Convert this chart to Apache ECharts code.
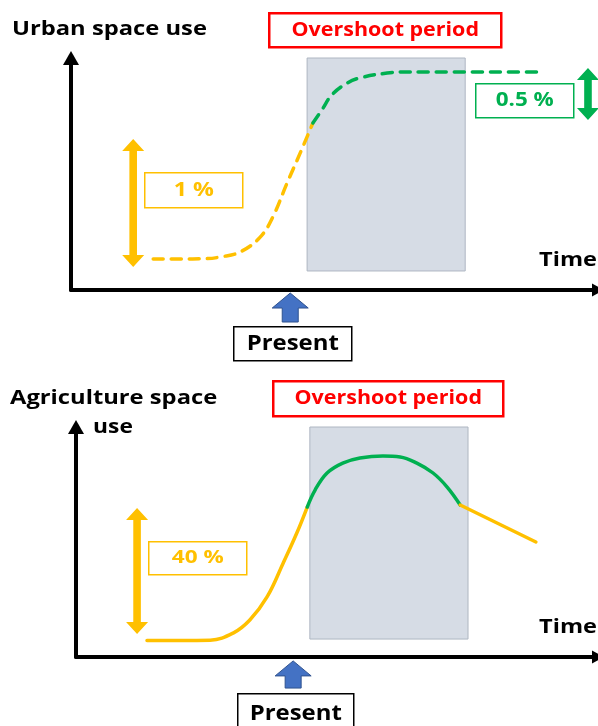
<!DOCTYPE html>
<html>
<head>
<meta charset="utf-8">
<script src="https://cdn.jsdelivr.net/npm/echarts@6/dist/echarts.min.js"></script>
<style>
  html, body { margin: 0; padding: 0; background: #fff; }
  #chart { width: 598px; height: 726px; }
</style>
</head>
<body>
<div id="chart"></div>
<script>
const YELLOW = "#FFC000";
const GREEN = "#00B050";
const RED = "#FF0000";
const BLUE = "#4472C4";
const SHADE = "#D6DCE5";
const FONT = "'Open Sans', 'Noto Sans', sans-serif";

// both panels use 0..100 units for time (x) and space use (y)
const urbanRise = [[15.6, 13.4], [20.7, 13.4], [25.5, 13.5], [28.5, 14.3], [32.1, 16.4], [35.9, 22.8], [38.3, 31.5], [41.0, 46.1], [43.5, 59.1], [45.9, 72.0]];
const urbanPlateau = [[45.9, 72.0], [47.6, 77.6], [49.5, 84.1], [52.4, 89.2], [54.8, 91.4], [60.0, 93.5], [64.3, 94.0], [89.4, 94.0]];
const urbanOvershoot = [44.8, 74.8, 8.2, 100];
const urbanRanges = [[11.8, 9.9, 65.1], [98.1, 73.3, 95.7]];
const urbanRangeColors = [YELLOW, GREEN];
const urbanPresent = [41.6, -1.3, -13.8];

const agriRise = [[13.6, 7.2], [20.0, 7.2], [25.7, 7.3], [30.1, 10.4], [33.3, 16.1], [36.6, 26.1], [39.7, 40.9], [42.3, 53.9], [44.3, 65.2]];
const agriPeak = [[44.3, 65.2], [45.8, 72.6], [48.1, 80.0], [51.1, 84.3], [54.4, 86.5], [58.8, 87.4], [62.1, 87.0], [65.3, 84.3], [68.4, 80.0], [71.1, 73.9], [73.6, 66.1]];
const agriDecline = [[73.6, 66.1], [88.1, 50.0]];
const agriOvershoot = [44.8, 75.1, 7.8, 100];
const agriRanges = [[11.7, 10.0, 64.8]];
const agriRangeColors = [YELLOW];
const agriPresent = [41.6, -1.7, -13.5];

const chart = echarts.init(document.getElementById("chart"), undefined, { renderer: "canvas" });

function axisPair(gridIndex) {
  const line = (size) => ({
    show: true,
    symbol: ["none", "triangle"],
    symbolSize: size,
    lineStyle: { color: "#000", width: 4 },
  });
  return {
    x: {
      gridIndex, type: "value", min: 0, max: 100,
      axisLine: line([13, 12]), axisTick: { show: false }, axisLabel: { show: false }, splitLine: { show: false },
    },
    y: {
      gridIndex, type: "value", min: 0, max: 100,
      axisLine: line([16, 14]), axisTick: { show: false }, axisLabel: { show: false }, splitLine: { show: false },
    },
  };
}

function rangeArrows(gridIndex, ranges, colors) {
  return {
    type: "custom",
    xAxisIndex: gridIndex,
    yAxisIndex: gridIndex,
    z: 5,
    data: ranges,
    renderItem: (params, api) => {
      const hi = api.coord([api.value(0), api.value(2)]);
      const lo = api.coord([api.value(0), api.value(1)]);
      const x = hi[0];
      const hw = 11, sw = 3.8, hl = 12;
      return {
        type: "polygon",
        shape: {
          points: [
            [x, hi[1]], [x + hw, hi[1] + hl], [x + sw, hi[1] + hl], [x + sw, lo[1] - hl], [x + hw, lo[1] - hl],
            [x, lo[1]], [x - hw, lo[1] - hl], [x - sw, lo[1] - hl], [x - sw, hi[1] + hl], [x - hw, hi[1] + hl],
          ],
        },
        style: { fill: colors[params.dataIndex] },
      };
    },
  };
}

function presentArrow(gridIndex, p) {
  return {
    type: "custom",
    xAxisIndex: gridIndex,
    yAxisIndex: gridIndex,
    z: 5,
    data: [p],
    renderItem: (params, api) => {
      const tip = api.coord([api.value(0), api.value(1)]);
      const base = api.coord([api.value(0), api.value(2)]);
      const x = tip[0];
      const hw = 18, sw = 8, hl = 15;
      return {
        type: "polygon",
        shape: {
          points: [[x, tip[1]], [x + hw, tip[1] + hl], [x + sw, tip[1] + hl], [x + sw, base[1]], [x - sw, base[1]], [x - sw, tip[1] + hl], [x - hw, tip[1] + hl]],
        },
        style: { fill: BLUE, stroke: "#2F528F", lineWidth: 1 },
      };
    },
  };
}

function curve(gridIndex, data, color, dashed) {
  return {
    type: "line",
    xAxisIndex: gridIndex,
    yAxisIndex: gridIndex,
    smooth: 0.4,
    showSymbol: false,
    z: 4,
    lineStyle: { color, width: 3.5, type: dashed ? [10, 8] : "solid", cap: "round" },
    data,
  };
}

function shade(gridIndex, a) {
  return {
    type: "line",
    xAxisIndex: gridIndex,
    yAxisIndex: gridIndex,
    data: [],
    z: 1,
    markArea: {
      silent: true,
      itemStyle: { color: SHADE, borderColor: "#AEB6C2", borderWidth: 1 },
      data: [[{ xAxis: a[0], yAxis: a[3] }, { xAxis: a[1], yAxis: a[2] }]],
    },
  };
}

function box(left, topPx, w, h, text, color, lineWidth, fontSize, stretch) {
  return {
    type: "group",
    left, top: topPx,
    children: [
      { type: "rect", shape: { x: 0, y: 0, width: w, height: h }, style: { fill: "#fff", stroke: color, lineWidth } },
      {
        type: "text", x: w / 2, y: h / 2, scaleX: stretch,
        style: { text, fill: color, font: `bold ${fontSize}px ${FONT}`, textAlign: "center", textVerticalAlign: "middle" },
      },
    ],
  };
}

function label(x, y, text, fontSize, align, stretch) {
  return {
    type: "text", x, y, scaleX: stretch || 1,
    style: { text, fill: "#000", font: `bold ${fontSize}px ${FONT}`, textAlign: align || "left", textVerticalAlign: "middle" },
  };
}

const urbanAxes = axisPair(0);
const agriAxes = axisPair(1);

chart.setOption({
  backgroundColor: "#fff",
  animation: false,
  grid: [
    { left: 71, top: 58, width: 527, height: 232 },
    { left: 76, top: 427, width: 522, height: 230 },
  ],
  xAxis: [urbanAxes.x, agriAxes.x],
  yAxis: [urbanAxes.y, agriAxes.y],
  series: [
    shade(0, urbanOvershoot),
    curve(0, urbanRise, YELLOW, true),
    curve(0, urbanPlateau, GREEN, true),
    rangeArrows(0, urbanRanges, urbanRangeColors),
    presentArrow(0, urbanPresent),
    shade(1, agriOvershoot),
    curve(1, agriRise, YELLOW, false),
    curve(1, agriPeak, GREEN, false),
    curve(1, agriDecline, YELLOW, false),
    rangeArrows(1, agriRanges, agriRangeColors),
    presentArrow(1, agriPresent),
  ],
  graphic: [
    label(12, 30, "Urban space use", 19, "left", 1.25),
    box(268, 12, 232, 34, "Overshoot period", RED, 2.5, 19, 1.13),
    box(144, 172, 98, 35, "1 %", YELLOW, 1.5, 19, 1.22),
    box(475, 83, 98, 34, "0.5 %", GREEN, 1.5, 19, 1.18),
    label(597, 261, "Time", 19, "right", 1.24),
    box(233, 326, 118, 34, "Present", "#000", 1.5, 21, 1.14),
    label(10, 399, "Agriculture space", 19, "left", 1.25),
    label(113, 428, "use", 19, "center", 1.2),
    box(272, 380, 230, 35, "Overshoot period", RED, 2.5, 19, 1.13),
    box(148, 541, 98, 33, "40 %", YELLOW, 1.5, 18, 1.25),
    label(597, 628, "Time", 19, "right", 1.24),
    box(237, 693, 116, 40, "Present", "#000", 1.5, 21, 1.14),
  ],
});

window.addEventListener("resize", () => chart.resize());
</script>
</body>
</html>
